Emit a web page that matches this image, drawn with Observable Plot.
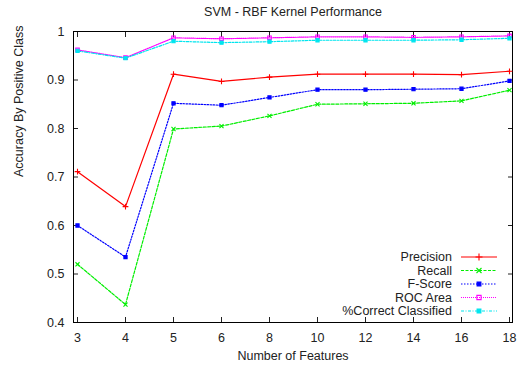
<!DOCTYPE html>
<html><head><meta charset="utf-8">
<script src="https://cdn.jsdelivr.net/npm/d3@7"></script>
<script src="https://cdn.jsdelivr.net/npm/@observablehq/plot@0.6"></script>
<style>
body{margin:0;background:#fff;font-family:"Liberation Sans",Arial,sans-serif;}
#chart{position:relative;width:524px;height:367px;}
</style></head>
<body><div id="chart"></div>
<script>
const features = ["3","4","5","6","8","10","12","14","16","18"];
const precision = [0.711,0.639,0.912,0.897,0.906,0.912,0.912,0.912,0.911,0.918];
const recall    = [0.520,0.437,0.799,0.805,0.826,0.850,0.851,0.852,0.857,0.879];
const fscore    = [0.600,0.535,0.852,0.848,0.864,0.880,0.880,0.881,0.882,0.898];
const roc       = [0.962,0.946,0.987,0.985,0.987,0.989,0.989,0.988,0.989,0.991];
const correct   = [0.960,0.945,0.980,0.977,0.979,0.982,0.982,0.982,0.983,0.986];
const yTicks = [0.4,0.5,0.6,0.7,0.8,0.9,1];

const series = [
  {name:"Precision", values:precision, color:"#ff0000", dash:null, symbol:"plus", fill:false},
  {name:"Recall", values:recall, color:"#00ee00", dash:"3,1.5", symbol:"times", fill:false},
  {name:"F-Score", values:fscore, color:"#0000ff", dash:"1.5,1.5", symbol:"square", fill:true},
  {name:"ROC Area", values:roc, color:"#ff00ff", dash:"1,1", symbol:"square", fill:false},
  {name:"%Correct Classified", values:correct, color:"#00e5ee", dash:"3,1.5,1,1.5", symbol:"square", fill:true}
];
const rows = series.flatMap(s => features.map((f,i)=>({f, v:s.values[i], s:s.name})));

const marks = [];
for (const s of series) {
  const d = rows.filter(r => r.s === s.name);
  marks.push(Plot.line(d, {x:"f", y:"v", stroke:s.color, strokeWidth:1.2, strokeDasharray:s.dash}));
  marks.push(Plot.dot(d, {x:"f", y:"v", symbol:s.symbol, r:s.fill?1.8:2, stroke:s.color, strokeWidth:1.1, fill:s.fill ? s.color : "none"}));
}
const blank = () => "";

const plot = Plot.plot({
  width:524, height:367,
  marginTop:31, marginBottom:45, marginLeft:73, marginRight:12,
  style:{fontFamily:"'Liberation Sans', Arial, sans-serif", fontSize:"12px", background:"#fff", color:"#222"},
  x:{type:"point", domain:features, padding:0},
  y:{domain:[0.4,1]},
  marks:[
    Plot.axisX({anchor:"bottom", tickSize:0, tickPadding:11, label:null, fontSize:12.5}),
    Plot.axisX({anchor:"bottom", tickSize:5, dy:-5, tickFormat:blank, label:null}),
    Plot.axisX({anchor:"top", tickSize:5, dy:5, tickFormat:blank, label:null}),
    Plot.axisY({anchor:"left", ticks:yTicks, tickSize:0, tickPadding:9, tickFormat:d=>String(+d.toFixed(1)), label:null, fontSize:12.5}),
    Plot.axisY({anchor:"left", ticks:yTicks, tickSize:5, dx:5, tickFormat:blank, label:null}),
    Plot.axisY({anchor:"right", ticks:yTicks, tickSize:5, dx:-5, tickFormat:blank, label:null}),
    Plot.frame({stroke:"#000", strokeWidth:1}),
    ...marks,
    Plot.text(["SVM - RBF Kernel Performance"], {frameAnchor:"top", lineAnchor:"middle", dy:-20, fontSize:12.5}),
    Plot.text(["Number of Features"], {frameAnchor:"bottom", lineAnchor:"middle", dy:33, fontSize:12.5}),
    Plot.text(["Accuracy By Positive Class"], {frameAnchor:"left", dx:-55, rotate:-90, fontSize:12.5})
  ]
});
document.getElementById("chart").appendChild(plot);

// legend
const svg = d3.select(plot);
const lg = svg.append("g").attr("font-size", 12.5).attr("font-family","'Liberation Sans', Arial, sans-serif");
series.forEach((s,i)=>{
  const y = 257 + i*13.5;
  lg.append("text").attr("x",452).attr("y",y).attr("dy","0.35em").attr("text-anchor","end").attr("fill","#222").text(s.name);
  lg.append("line").attr("x1",461).attr("x2",497).attr("y1",y).attr("y2",y)
    .attr("stroke",s.color).attr("stroke-width",1.2).attr("stroke-dasharray",s.dash);
  const r = s.fill?1.8:2;
  const sym = d3.symbol(s.symbol==="plus"?d3.symbolPlus:s.symbol==="times"?d3.symbolTimes:d3.symbolSquare, 4.5*r*r);
  lg.append("path").attr("transform",`translate(479,${y})`).attr("d",sym())
    .attr("stroke",s.color).attr("stroke-width",1.1).attr("fill",s.fill?s.color:"none");
});
</script></body></html>
